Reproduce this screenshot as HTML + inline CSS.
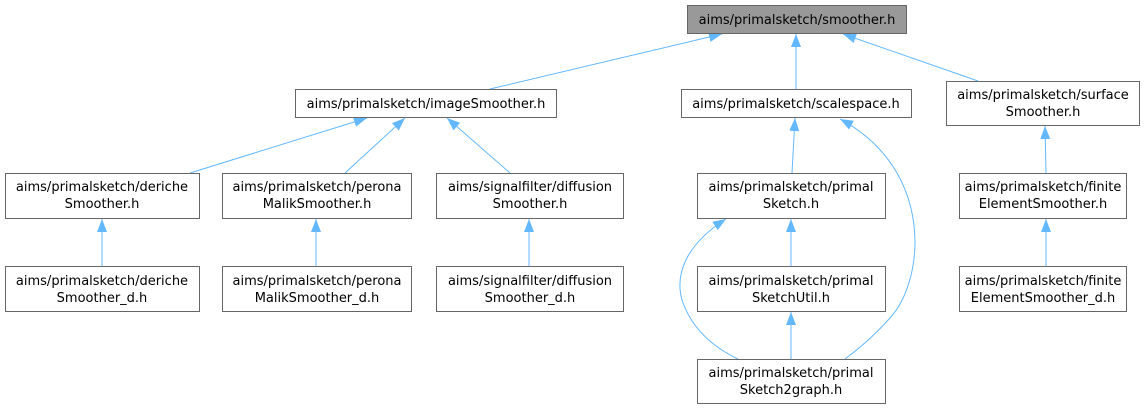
<!DOCTYPE html>
<html><head><meta charset="utf-8"><style>
html,body{margin:0;padding:0;background:#fff;width:1145px;height:409px;overflow:hidden}
text{font-family:"DejaVu Sans","Liberation Sans",sans-serif;font-size:13px;fill:#000}
</style></head><body>
<svg width="1145" height="409" viewBox="0 0 1145 409" xmlns="http://www.w3.org/2000/svg">
<defs>
<marker id="a" markerWidth="14" markerHeight="10" refX="0" refY="5" orient="auto" markerUnits="userSpaceOnUse">
<path d="M13,0 L0,5 L13,10 Z" fill="#63b8ff"/>
</marker>
</defs>
<g fill="none" stroke="#63b8ff" stroke-width="1" marker-start="url(#a)">
<path d="M722,34 L490,89"/>
<path d="M796,34 L796,89"/>
<path d="M843,34 L978,81"/>
<path d="M367,118 L190,173"/>
<path d="M405,118 L345,173"/>
<path d="M447,118 L510,173"/>
<path d="M795,118 L792,173"/>
<path d="M840,119 C935,170 925,280 890,318 C875,335 860,348 845,359"/>
<path d="M1045,126 L1046,173"/>
<path d="M102,219 L102,266"/>
<path d="M316,219 L316,266"/>
<path d="M529,219 L529,266"/>
<path d="M791,219 L791,266"/>
<path d="M1046,219 L1046,266"/>
<path d="M791,312 L791,359"/>
<path d="M726,219 C685,245 675,275 682,300 C692,330 715,348 738,359"/>
</g>
<g stroke="#666" stroke-width="1">
<rect x="687.5" y="5.5" width="219" height="28" fill="#999"/>
<rect x="295.5" y="89.5" width="261" height="28" fill="#fff"/>
<rect x="681.5" y="89.5" width="230" height="28" fill="#fff"/>
<rect x="946.5" y="81.5" width="193" height="44" fill="#fff"/>
<rect x="5.5" y="173.5" width="194" height="45" fill="#fff"/>
<rect x="222.5" y="173.5" width="189" height="45" fill="#fff"/>
<rect x="436.5" y="173.5" width="187" height="45" fill="#fff"/>
<rect x="697.5" y="173.5" width="188" height="45" fill="#fff"/>
<rect x="959.5" y="173.5" width="167" height="45" fill="#fff"/>
<rect x="5.5" y="266.5" width="194" height="45" fill="#fff"/>
<rect x="222.5" y="266.5" width="189" height="45" fill="#fff"/>
<rect x="436.5" y="266.5" width="187" height="45" fill="#fff"/>
<rect x="697.5" y="266.5" width="188" height="45" fill="#fff"/>
<rect x="959.5" y="266.5" width="167" height="45" fill="#fff"/>
<rect x="697.5" y="359.5" width="188" height="44" fill="#fff"/>
</g>
<g text-anchor="middle">
<text x="797" y="24">aims/primalsketch/smoother.h</text>
<text x="426" y="108">aims/primalsketch/imageSmoother.h</text>
<text x="796" y="108">aims/primalsketch/scalespace.h</text>
<text x="1043" y="99">aims/primalsketch/surface</text><text x="1043" y="116">Smoother.h</text>
<text x="102" y="191">aims/primalsketch/deriche</text><text x="102" y="208">Smoother.h</text>
<text x="317" y="191">aims/primalsketch/perona</text><text x="317" y="208">MalikSmoother.h</text>
<text x="530" y="191">aims/signalfilter/diffusion</text><text x="530" y="208">Smoother.h</text>
<text x="791" y="191">aims/primalsketch/primal</text><text x="791" y="208">Sketch.h</text>
<text x="1043" y="191">aims/primalsketch/finite</text><text x="1043" y="208">ElementSmoother.h</text>
<text x="102" y="285">aims/primalsketch/deriche</text><text x="102" y="302">Smoother_d.h</text>
<text x="317" y="285">aims/primalsketch/perona</text><text x="317" y="302">MalikSmoother_d.h</text>
<text x="530" y="285">aims/signalfilter/diffusion</text><text x="530" y="302">Smoother_d.h</text>
<text x="791" y="285">aims/primalsketch/primal</text><text x="791" y="302">SketchUtil.h</text>
<text x="1043" y="285">aims/primalsketch/finite</text><text x="1043" y="302">ElementSmoother_d.h</text>
<text x="791" y="377">aims/primalsketch/primal</text><text x="791" y="394">Sketch2graph.h</text>
</g>
</svg>
</body></html>
